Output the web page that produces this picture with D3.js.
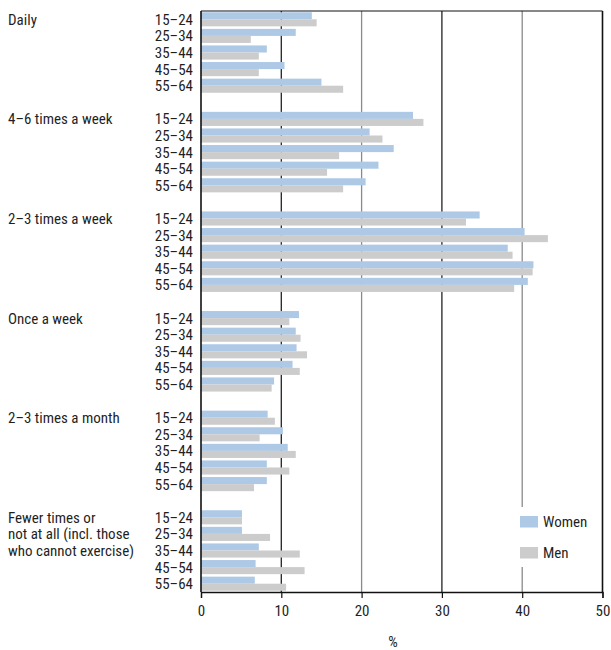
<!DOCTYPE html>
<html><head><meta charset="utf-8">
<script src="https://cdn.jsdelivr.net/npm/d3@7"></script>
<style>
body{margin:0;background:#fff;}
text{font-family:"Liberation Sans Narrow","Roboto Condensed","DejaVu Sans Condensed","Liberation Sans",sans-serif;font-stretch:condensed;fill:#1f1f1f;}
</style></head><body>
<svg id="chart" width="611" height="650"></svg>
<script>
const groups = ["Daily","4–6 times a week","2–3 times a week","Once a week","2–3 times a month","Fewer times or|not at all (incl. those|who cannot exercise)"];
const ages = ["15–24","25–34","35–44","45–54","55–64"];
const women = [
  [13.8,11.8,8.2,10.4,15.0],
  [26.4,21.0,24.0,22.1,20.5],
  [34.7,40.3,38.2,41.4,40.7],
  [12.2,11.8,11.9,11.4,9.1],
  [8.3,10.2,10.8,8.2,8.2],
  [5.1,5.1,7.2,6.8,6.7]
];
const men = [
  [14.4,6.2,7.2,7.2,17.7],
  [27.7,22.6,17.2,15.7,17.7],
  [33.0,43.2,38.8,41.3,39.0],
  [11.0,12.4,13.2,12.3,8.8],
  [9.2,7.3,11.8,11.0,6.6],
  [5.1,8.6,12.3,12.9,10.6]
];
const xTicks = [0,10,20,30,40,50];
const seriesNames = ["Women","Men"];
const colors = {Women:"#adc9e6", Men:"#cccccc"};

(function(){
const svg = d3.select("#chart");
const mLeft = 201, mRight = 602.5, mTop = 11, mBottom = 592;
const fs = "15px";

const keys = [];
groups.forEach((g,gi)=>{
  ages.forEach((a,ai)=>keys.push(gi+"-"+ai));
  if (gi < groups.length-1) keys.push("sp"+gi);
});
const y = d3.scaleBand().domain(keys).range([mTop,mBottom]).paddingInner(0.15).paddingOuter(0.075);
const x = d3.scaleLinear().domain([0,50]).range([mLeft,mRight]);

svg.append("g").selectAll("line").data(xTicks.filter(t=>t>0 && t<50)).join("line")
  .attr("x1",d=>x(d)).attr("x2",d=>x(d)).attr("y1",mTop).attr("y2",mBottom)
  .attr("stroke",d=>d%20===0?"#8a8a8a":"#222").attr("stroke-width",1.3);

const rows = [];
groups.forEach((g,gi)=>ages.forEach((a,ai)=>{
  rows.push({key:gi+"-"+ai, s:"Women", v:women[gi][ai], off:0});
  rows.push({key:gi+"-"+ai, s:"Men", v:men[gi][ai], off:1});
}));
const bh = y.bandwidth()/2;
svg.append("g").selectAll("rect").data(rows).join("rect")
  .attr("x",x(0)).attr("width",d=>x(d.v)-x(0))
  .attr("y",d=>y(d.key)+d.off*bh).attr("height",bh)
  .attr("fill",d=>colors[d.s]);

svg.append("line").attr("x1",mLeft).attr("x2",mRight).attr("y1",mTop).attr("y2",mTop).attr("stroke","#111").attr("stroke-width",1.2);
svg.append("line").attr("x1",mRight).attr("x2",mRight).attr("y1",mTop).attr("y2",mBottom).attr("stroke","#111").attr("stroke-width",1.6);
svg.append("line").attr("x1",mLeft).attr("x2",mLeft).attr("y1",mTop).attr("y2",mBottom).attr("stroke","#111").attr("stroke-width",1.6);

const xAxis = d3.axisBottom(x).tickValues(xTicks).tickSize(6).tickPadding(7).tickFormat(d3.format("d"));
const ga = svg.append("g").attr("transform",`translate(0,${mBottom})`).call(xAxis);
ga.select(".domain").attr("stroke","#111").attr("stroke-width",1.3);
ga.selectAll(".tick line").attr("stroke","#111").attr("stroke-width",1.2);
ga.selectAll(".tick text").style("font-size",fs).attr("fill","#1f1f1f")
  .style("font-family",'"Liberation Sans Narrow","Roboto Condensed","DejaVu Sans Condensed",sans-serif');

svg.append("text").attr("x",393).attr("y",647).attr("text-anchor","middle").style("font-size",fs).text("%");

svg.append("g").selectAll("text").data(rows.filter(r=>r.off===0)).join("text")
  .attr("x",193).attr("y",d=>y(d.key)+y.bandwidth()/2).attr("dy","0.36em")
  .attr("text-anchor","end").style("font-size",fs)
  .text(d=>ages[+d.key.split("-")[1]]);

groups.forEach((g,gi)=>{
  g.split("|").forEach((line,li)=>{
    svg.append("text").attr("x",8).attr("y",y(gi+"-"+li)+y.bandwidth()/2).attr("dy","0.36em")
      .style("font-size",fs).text(line);
  });
});

const lg = svg.append("g");
lg.append("rect").attr("x",512).attr("y",507).attr("width",89).attr("height",60).attr("fill","#fff");
seriesNames.forEach((s,i)=>{
  lg.append("rect").attr("x",520).attr("y",516+i*31).attr("width",18).attr("height",11.5).attr("fill",colors[s]);
  lg.append("text").attr("x",543).attr("y",527+i*31).style("font-size",fs).text(s);
});
})();
</script>
</body></html>
